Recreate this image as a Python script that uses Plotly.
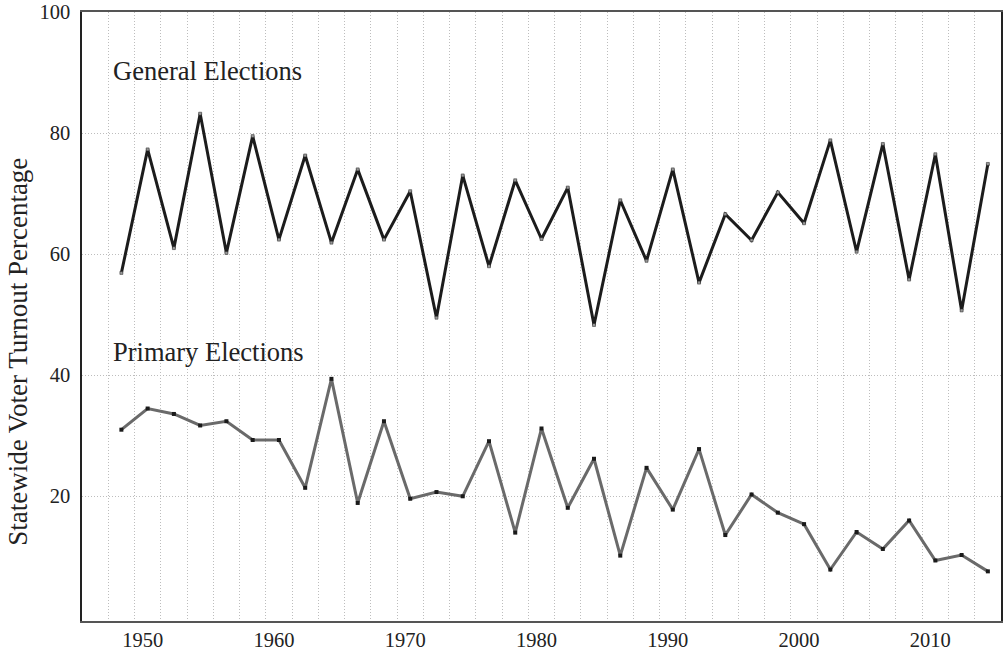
import plotly.graph_objects as go

years = list(range(1948, 2015, 2))
general = [56.9, 77.3, 61.0, 83.2, 60.2, 79.5, 62.4, 76.3, 61.9, 74.0, 62.4, 70.4,
           49.5, 73.0, 58.0, 72.2, 62.5, 71.0, 48.3, 68.9, 58.9, 74.0, 55.3,
           66.6, 62.3, 70.2, 65.1, 78.8, 60.4, 78.2, 55.8, 76.5, 50.7, 74.9]
primary = [31.0, 34.5, 33.6, 31.7, 32.4, 29.3, 29.3, 21.4, 39.4, 18.9, 32.4, 19.6,
           20.7, 20.0, 29.1, 14.0, 31.2, 18.1, 26.2, 10.2, 24.7, 17.8, 27.8,
           13.6, 20.3, 17.3, 15.4, 7.9, 14.1, 11.3, 16.0, 9.4, 10.3, 7.6]
x_ticks = [1950, 1960, 1970, 1980, 1990, 2000, 2010]
x_grid = list(range(1947, 2015, 2))
y_ticks = [20, 40, 60, 80, 100]
labels = ["General Elections", "Primary Elections"]
y_title = "Statewide Voter Turnout Percentage"

FONT = "Liberation Serif"
GRID = "#bdbdbd"

fig = go.Figure()
fig.add_trace(go.Scatter(
    x=years, y=general, mode="lines+markers",
    line=dict(color="#1c1c1c", width=3),
    marker=dict(symbol="square", size=3, color="#999999",
                line=dict(color="#1c1c1c", width=0.5)),
    showlegend=False, hoverinfo="skip"))
fig.add_trace(go.Scatter(
    x=years, y=primary, mode="lines+markers",
    line=dict(color="#6a6a6a", width=3),
    marker=dict(symbol="square", size=4, color="#1a1a1a"),
    showlegend=False, hoverinfo="skip"))

fig.add_annotation(x=1947.2, y=90.3, text=labels[0], showarrow=False,
                   xanchor="left", yanchor="middle",
                   font=dict(family=FONT, size=26.5, color="#222222"))
fig.add_annotation(x=1947.2, y=43.8, text=labels[1], showarrow=False,
                   xanchor="left", yanchor="middle",
                   font=dict(family=FONT, size=26.5, color="#222222"))
fig.add_annotation(xref="paper", yref="paper", x=-0.0696, y=0.442,
                   text=y_title, textangle=-90, showarrow=False,
                   xanchor="center", yanchor="middle",
                   font=dict(family=FONT, size=27, color="#222222"))

fig.update_layout(
    width=1006, height=656,
    margin=dict(l=82, r=5, t=12, b=35, autoexpand=False),
    paper_bgcolor="white", plot_bgcolor="white",
    font=dict(family=FONT, size=20, color="#222222"),
)
fig.update_xaxes(
    range=[1945, 2015], tickvals=x_ticks, ticktext=[str(v) for v in x_ticks],
    showgrid=False, zeroline=False, ticks="", ticklabelshift=-5,
    showline=True, linecolor="#555555", linewidth=1.5, mirror=True,
    automargin=False,
    tickfont=dict(family=FONT, size=20.5, color="#222222"),
    minor=dict(tickvals=x_grid, showgrid=True, gridcolor=GRID,
               griddash="1px,2px", gridwidth=1, ticks=""),
)
fig.update_yaxes(
    range=[-0.6, 100], tickvals=y_ticks, ticktext=[str(v) for v in y_ticks],
    showgrid=True, gridcolor=GRID, griddash="1px,2px", gridwidth=1,
    zeroline=False, ticks="", ticklabelstandoff=6,
    showline=True, linecolor="#222222", linewidth=1.5, mirror=True,
    automargin=False,
    tickfont=dict(family=FONT, size=20.5, color="#222222"),
)

fig.write_html("out.html",
               config={"displayModeBar": False},
               post_script="document.body.style.margin='0';document.body.style.padding='0';")
